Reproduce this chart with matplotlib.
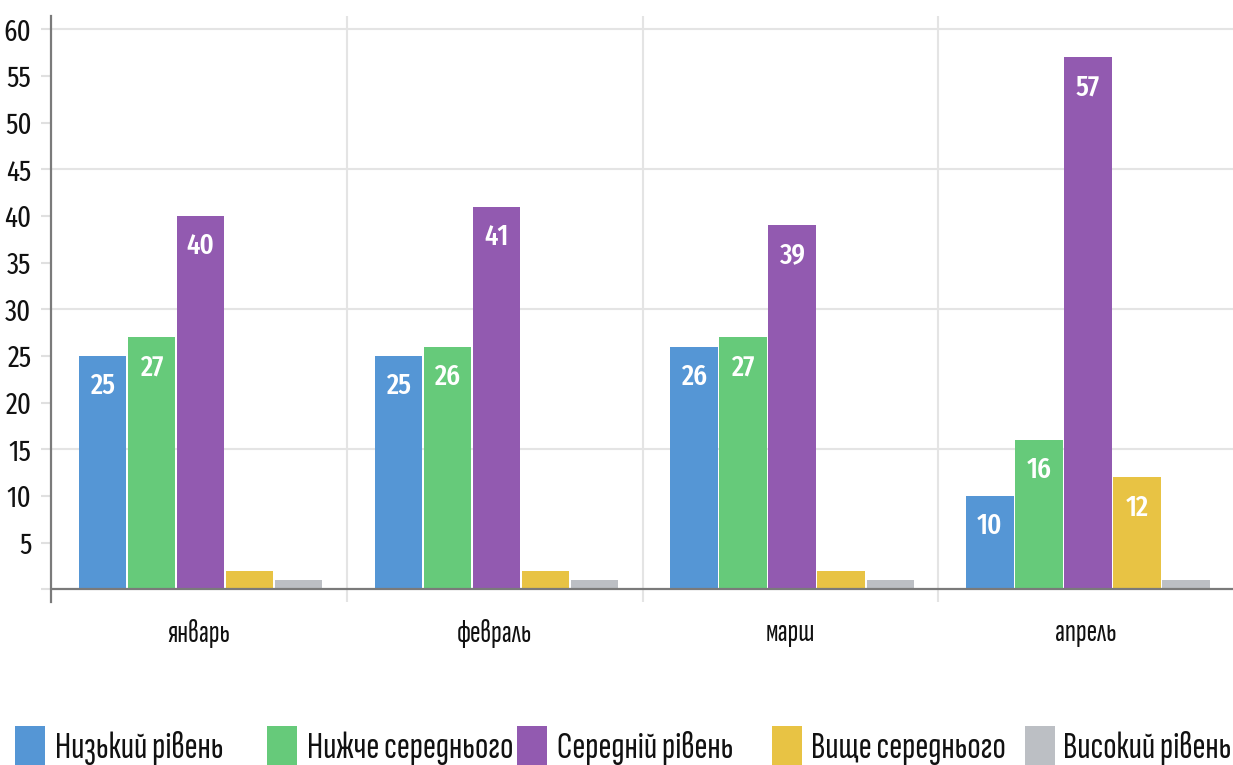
import matplotlib
matplotlib.use("Agg")
import matplotlib.pyplot as plt
from matplotlib.patches import Rectangle
from matplotlib.textpath import TextPath
from matplotlib.font_manager import FontProperties
import numpy as np

months = ["январь", "февраль", "марш", "апрель"]
series_names = ["Низький рівень", "Нижче середнього", "Середній рівень", "Вище середнього", "Високий рівень"]
low = [25, 25, 26, 10]
below_avg = [27, 26, 27, 16]
average = [40, 41, 39, 57]
above_avg = [2, 2, 2, 12]
high = [1, 1, 1, 1]
colors = ["#5596d5", "#66ca7a", "#925ab0", "#e8c344", "#bcbfc4"]
y_ticks = [0, 5, 10, 15, 20, 25, 30, 35, 40, 45, 50, 55, 60]
grid_levels = [15, 30, 45, 60]

NUM_FONT = ["Fira Sans Extra Condensed", "DejaVu Sans"]
TXT_FONT = ["Sofia Sans Extra Condensed", "Fira Sans Extra Condensed", "DejaVu Sans"]
plt.rcParams["font.family"] = NUM_FONT


def fit_size(text, family, target_px):
    w = TextPath((0, 0), text, size=100, prop=FontProperties(family=family)).get_extents().width
    return target_px / (w / 100) * 72 / 100


W, H = 1233, 765
fig = plt.figure(figsize=(W / 100, H / 100), dpi=100)
ax = fig.add_axes([51 / W, (H - 602) / H, (1234 - 51) / W, (602 - 16) / H])

ax.set_xlim(-0.5, len(months) - 0.5)
ax.set_ylim(-1.36, 61.43)

all_series = [low, below_avg, average, above_avg, high]
x = np.arange(len(months))
pitch = 0.1657
width = 0.16
for i, (vals, col) in enumerate(zip(all_series, colors)):
    pos = x + (i - 2) * pitch + 0.006
    ax.bar(pos, vals, width=width, color=col, zorder=2)
    for xb, v in zip(pos, vals):
        if v >= 2:
            ax.annotate(str(v), (xb, v), xytext=(0, -30), textcoords="offset pixels",
                        ha="center", va="center", color="white", fontsize=21,
                        fontweight=500, clip_on=True, zorder=3)

# grid lines
for g in grid_levels:
    ax.axhline(g, color="#e4e4e4", lw=1.5, zorder=1)
for b in [0.5, 1.5, 2.5]:
    ax.axvline(b, color="#e4e4e4", lw=1.5, zorder=1)
ax.axhline(0, color="#7a7a7a", lw=1.6, zorder=4)

for s in ["top", "right", "bottom"]:
    ax.spines[s].set_visible(False)
ax.spines["left"].set_color("#7a7a7a")
ax.spines["left"].set_linewidth(1.6)
ax.spines["left"].set_zorder(5)

ax.set_yticks(y_ticks)
ax.set_yticklabels([""] + [str(t) for t in y_ticks[1:]])
ax.tick_params(axis="y", length=7, width=1.5, color="#e0e0e0", pad=7, labelsize=21, labelcolor="#111111")
ax.yaxis.get_major_ticks()[0].tick1line.set_color("#7a7a7a")

cat_size = fit_size("январь", TXT_FONT[0], 61)
ax.set_xticks(x)
ax.set_xticklabels(months, family=TXT_FONT, fontsize=cat_size)
ax.tick_params(axis="x", length=0, pad=12, labelcolor="#111111")

# legend (fixed-width items along the bottom edge)
patch_x = [15, 267, 517, 772, 1025]
text_x = [55, 307, 557, 811, 1063]
leg_size = fit_size("Нижче середнього", TXT_FONT[0], 203)
for name, col, px, tx in zip(series_names, colors, patch_x, text_x):
    fig.add_artist(Rectangle((px / W, 0), 30 / W, (H - 726) / H, transform=fig.transFigure,
                             facecolor=col, edgecolor="none"))
    fig.text(tx / W, (H - 758) / H, name, fontsize=leg_size, family=TXT_FONT,
             va="baseline", ha="left", color="#111111")

fig.savefig("out.png", dpi=100)
